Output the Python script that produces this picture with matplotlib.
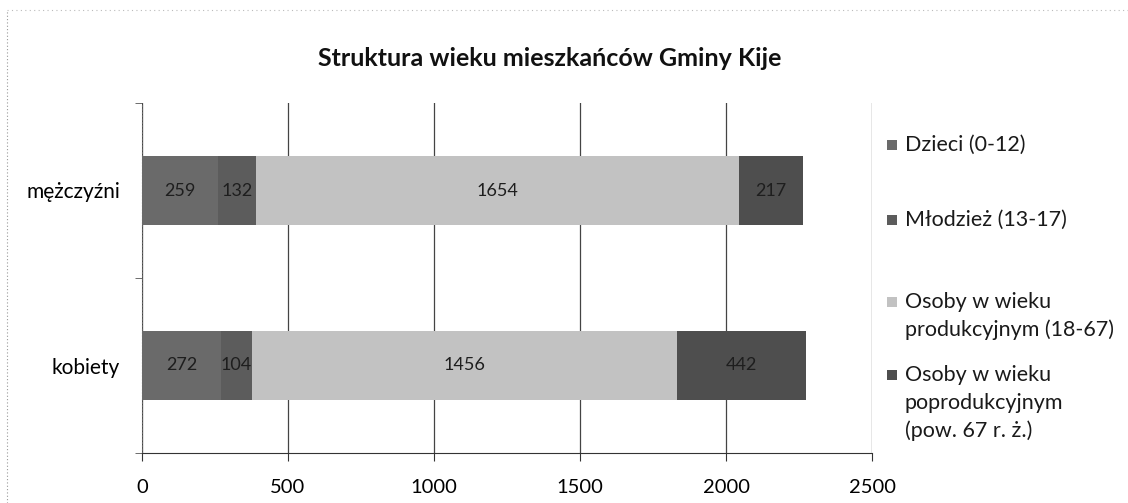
import numpy as np
import matplotlib.pyplot as plt
from matplotlib.patches import Rectangle

plt.rcParams['font.family'] = ['Lato', 'DejaVu Sans']

categories = ['kobiety', 'mężczyźni']
series_names = ['Dzieci (0-12)', 'Młodzież (13-17)',
                'Osoby w wieku\nprodukcyjnym (18-67)',
                'Osoby w wieku\npoprodukcyjnym\n(pow. 67 r. ż.)']
dzieci = [272, 259]
mlodziez = [104, 132]
produkcyjny = [1456, 1654]
poprodukcyjny = [442, 217]
x_ticks = [0, 500, 1000, 1500, 2000, 2500]

colors = ['#6a6a6a', '#5c5c5c', '#c2c2c2', '#4e4e4e']

W, H = 1128, 503
fig = plt.figure(figsize=(W / 100, H / 100), dpi=100)
ax = fig.add_axes([142 / W, 1 - 453 / H, 730 / W, 350 / H])

y = np.arange(len(categories))
left = np.zeros(len(categories))
for vals, name, col in zip([dzieci, mlodziez, produkcyjny, poprodukcyjny], series_names, colors):
    ax.barh(y, vals, left=left, height=0.39, color=col, edgecolor='none', label=name, zorder=3)
    for yi, v, l in zip(y, vals, left):
        ax.text(l + v / 2, yi, str(v), ha='center', va='center', fontsize=13, color='#1e1e1e', zorder=4)
    left += np.array(vals)

ax.set_xlim(0, 2500)
ax.set_ylim(-0.5, 1.5)
ax.set_xticks(x_ticks)
ax.set_yticks(y)
ax.set_yticklabels(categories)
ax.set_yticks([-0.5, 0.5, 1.5], minor=True)
ax.tick_params(axis='x', length=6, pad=13, labelsize=14.5, color='#333333')
ax.tick_params(axis='y', which='major', length=0, pad=16, labelsize=15)
ax.tick_params(axis='y', which='minor', length=5, color='#555555')
ax.xaxis.grid(True, color='#444444', linewidth=0.9, zorder=0)
for s in ['top', 'right']:
    ax.spines[s].set_visible(False)
ax.spines['left'].set_linestyle((0, (1, 2)))
ax.spines['left'].set_color('#666666')
ax.spines['bottom'].set_color('#333333')

fig.text(550 / W, 1 - 58 / H, 'Struktura wieku mieszkańców Gminy Kije', ha='center', va='center',
         fontsize=18, fontweight='bold', color='#111111')

# legend drawn like the Excel one: marker aligned with the first text line
legend_rows = [145, 220, 302, 375]
line_step = 28
for name, col, row in zip(series_names, colors, legend_rows):
    fig.patches.append(Rectangle((887 / W, 1 - (row + 5) / H), 10 / W, 10 / H,
                                 facecolor=col, edgecolor='none', transform=fig.transFigure))
    for i, line in enumerate(name.split('\n')):
        fig.text(905 / W, 1 - (row + i * line_step) / H, line, ha='left', va='center',
                 fontsize=15.5, color='#1a1a1a')

# faint scanned chart frame
fig.add_artist(plt.Line2D([7 / W, 7 / W], [0.0, 1 - 10 / H], color='#999999', lw=0.8, ls=(0, (1, 2))))
fig.add_artist(plt.Line2D([7 / W, 1.0], [1 - 10 / H, 1 - 10 / H], color='#bbbbbb', lw=0.8, ls=(0, (1, 3))))

fig.savefig('out.png', dpi=100)
